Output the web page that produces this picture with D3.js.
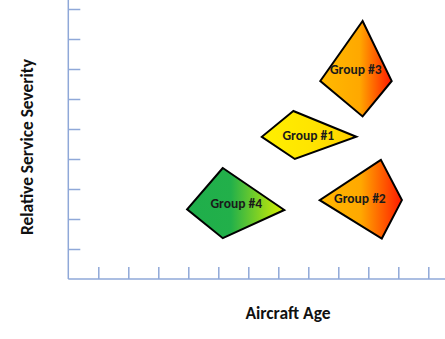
<!DOCTYPE html>
<html>
<head>
<meta charset="utf-8">
<script src="https://cdn.jsdelivr.net/npm/d3@7"></script>
<style>
  html, body { margin: 0; padding: 0; background: #fff; }
  svg { display: block; }
</style>
</head>
<body>
<svg id="chart" width="445" height="339"></svg>
<script>
// ---- data ----
const groups = ["Group #1", "Group #2", "Group #3", "Group #4"];
// quadrilateral vertices (top, left, bottom, right) in axis units [age, severity]
const group1Shape = [[7.5, 5.6], [6.45, 4.74], [7.55, 4.0], [9.6, 4.74]];
const group2Shape = [[10.42, 3.97], [8.38, 2.63], [10.45, 1.35], [11.12, 2.63]];
const group3Shape = [[9.81, 8.6], [8.4, 6.6], [9.81, 5.42], [10.78, 6.6]];
const group4Shape = [[5.15, 3.7], [3.96, 2.32], [5.15, 1.36], [7.2, 2.3]];
const shapes = [group1Shape, group2Shape, group3Shape, group4Shape];
const labelPos = [[8.0, 4.8], [9.72, 2.68], [9.58, 6.98], [5.6, 2.53]];
const gradStops = [
  [[0, "#FFEF00"], [0.5, "#FFE500"], [1, "#FFCF00"]],
  [[0, "#FFB800"], [0.5, "#FFA800"], [1, "#FF1A00"]],
  [[0, "#FFBA00"], [0.55, "#FFA800"], [1, "#FF1800"]],
  [[0, "#1FAE4B"], [0.45, "#22B04A"], [1, "#D8F000"]]
];
const xTicks = [1, 2, 3, 4, 5, 6, 7, 8, 9, 10, 11, 12];
const yTicks = [1, 2, 3, 4, 5, 6, 7, 8, 9];
const xTitle = "Aircraft Age";
const yTitle = "Relative Service Severity";

// ---- layout ----
const W = 445, H = 339;
const x0 = 68.3, yBase = 279;
const x = d3.scaleLinear().domain([0, 1]).range([x0, x0 + 30]);
const y = d3.scaleLinear().domain([0, 1]).range([yBase, yBase - 30]);
const axisColor = "#8FA8D8";
const font = "Carlito, Calibri, 'Liberation Sans', Arial, sans-serif";

const svg = d3.select("#chart");
const defs = svg.append("defs");

gradStops.forEach((stops, i) => {
  const g = defs.append("linearGradient")
    .attr("id", "grad" + i)
    .attr("x1", "0%").attr("x2", "100%").attr("y1", "0%").attr("y2", "0%");
  stops.forEach(s => g.append("stop").attr("offset", s[0]).attr("stop-color", s[1]));
});

// axes
const xAxis = d3.axisTop(x).tickValues(xTicks).tickSize(12).tickFormat("");
const gx = svg.append("g").attr("transform", `translate(0,${yBase})`).call(xAxis);
gx.select(".domain").remove();
gx.selectAll(".tick line").attr("stroke", axisColor).attr("stroke-width", 1.5);
svg.append("line").attr("x1", x0).attr("x2", W).attr("y1", yBase).attr("y2", yBase)
  .attr("stroke", axisColor).attr("stroke-width", 1.5);

const yAxis = d3.axisRight(y).tickValues(yTicks).tickSize(12).tickFormat("");
const gy = svg.append("g").attr("transform", `translate(${x0},0)`).call(yAxis);
gy.select(".domain").remove();
gy.selectAll(".tick line").attr("stroke", axisColor).attr("stroke-width", 1.5);
svg.append("line").attr("x1", x0).attr("x2", x0).attr("y1", 0).attr("y2", yBase)
  .attr("stroke", axisColor).attr("stroke-width", 1.5);

// shapes
const line = d3.line().x(d => x(d[0])).y(d => y(d[1]));
shapes.forEach((pts, i) => {
  svg.append("path")
    .attr("d", line(pts) + "Z")
    .attr("fill", `url(#grad${i})`)
    .attr("stroke", "#000")
    .attr("stroke-width", 2)
    .attr("stroke-linejoin", "miter");
});
groups.forEach((name, i) => {
  svg.append("text")
    .attr("x", x(labelPos[i][0]))
    .attr("y", y(labelPos[i][1]))
    .attr("text-anchor", "middle")
    .attr("dominant-baseline", "central")
    .attr("font-family", font)
    .attr("font-weight", "bold")
    .attr("font-size", 13.5)
    .attr("fill", "#1a1a1a")
    .text(name);
});

// titles
svg.append("text")
  .attr("x", 288).attr("y", 319)
  .attr("text-anchor", "middle")
  .attr("font-family", font)
  .attr("font-weight", "bold").attr("font-size", 17.5)
  .attr("fill", "#111")
  .text(xTitle);
svg.append("text")
  .attr("transform", "translate(33,147) rotate(-90)")
  .attr("text-anchor", "middle")
  .attr("font-family", font)
  .attr("font-weight", "bold").attr("font-size", 17.4)
  .attr("fill", "#111")
  .text(yTitle);
</script>
</body>
</html>
